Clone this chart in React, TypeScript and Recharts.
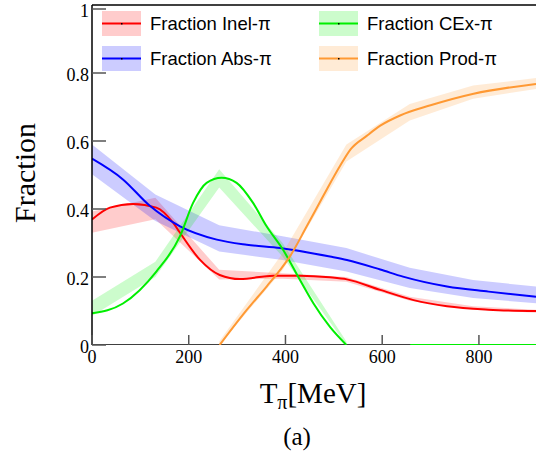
import React from 'react';
import { ComposedChart, Line, Area, XAxis, YAxis, ReferenceLine, Customized } from 'recharts';

// Band nodes (MeV)
const BAND_X = [0, 131, 263, 394, 526, 657, 788, 918];
const RED_LO = [0.33, 0.37, 0.193, 0.195, 0.186, 0.13, 0.104, 0.095];
const RED_HI = [0.393, 0.433, 0.221, 0.211, 0.2, 0.142, 0.114, 0.104];
const BLUE_LO = [0.502, 0.365, 0.275, 0.25, 0.216, 0.168, 0.138, 0.123];
const BLUE_HI = [0.59, 0.443, 0.352, 0.32, 0.285, 0.227, 0.191, 0.172];
const GREEN_BAND_X = [0, 131, 263, 394, 526];
const GREEN_LO = [0.085, 0.2, 0.463, 0.26, 0];
const GREEN_HI = [0.13, 0.245, 0.517, 0.3, 0.01];
const ORANGE_BAND_X = [263, 394, 526, 657, 788, 918];
const ORANGE_LO = [0, 0.22, 0.54, 0.66, 0.724, 0.753];
const ORANGE_HI = [0.01, 0.27, 0.59, 0.709, 0.763, 0.785];

// Central curves
const RED_X = [0, 37, 85, 133, 168, 182, 223, 264, 306, 375, 430, 492, 527, 596, 665, 734, 820, 918];
const RED_Y = [0.369, 0.404, 0.415, 0.404, 0.359, 0.33, 0.251, 0.206, 0.194, 0.204, 0.204, 0.199, 0.193, 0.162, 0.132, 0.114, 0.104, 0.1];
const BLUE_X = [0, 64, 119, 182, 258, 320, 389, 492, 527, 596, 643, 734, 820, 918];
const BLUE_Y = [0.548, 0.487, 0.41, 0.349, 0.31, 0.295, 0.285, 0.26, 0.25, 0.222, 0.201, 0.172, 0.157, 0.142];
const GREEN_X = [0, 64, 133, 182, 209, 237, 268, 299, 333, 361, 395, 430, 458, 492, 526, 590, 658, 918];
const GREEN_Y: (number | null)[] = [0.093, 0.122, 0.216, 0.32, 0.418, 0.477, 0.492, 0.477, 0.418, 0.349, 0.28, 0.191, 0.122, 0.053, 0, null, 0, 0];
const ORANGE_X = [264, 320, 361, 389, 409, 444, 478, 513, 535, 568, 596, 637, 700, 789, 918];
const ORANGE_Y = [0, 0.103, 0.172, 0.221, 0.26, 0.349, 0.438, 0.527, 0.576, 0.615, 0.645, 0.675, 0.705, 0.739, 0.768];

const X_DOMAIN = [0, 918];
const X_TICKS = [0, 200, 400, 600, 800];
const Y_TICKS = [0, 0.2, 0.4, 0.6, 0.8, 1];

const SERIES = [
  { name: 'Fraction Inel-π', color: '#ff0000' },
  { name: 'Fraction Abs-π', color: '#0000ff' },
  { name: 'Fraction CEx-π', color: '#00ee00' },
  { name: 'Fraction Prod-π', color: '#ff9933' },
];

const band = (xs: number[], lo: number[], hi: number[]) => xs.map((x, i) => ({ x, band: [lo[i], hi[i]] }));
const line = (xs: number[], ys: (number | null)[]) => xs.map((x, i) => ({ x, y: ys[i] }));

const redBand = band(BAND_X, RED_LO, RED_HI);
const blueBand = band(BAND_X, BLUE_LO, BLUE_HI);
const greenBand = band(GREEN_BAND_X, GREEN_LO, GREEN_HI);
const orangeBand = band(ORANGE_BAND_X, ORANGE_LO, ORANGE_HI);
const redLine = line(RED_X, RED_Y);
const blueLine = line(BLUE_X, BLUE_Y);
const greenLine = line(GREEN_X, GREEN_Y);
const orangeLine = line(ORANGE_X, ORANGE_Y);
// bottom frame line at y = 0 (drawn as a series so the curves can sit above it)
const baseLine = X_DOMAIN.map((x) => ({ x, y: 0 }));

const SERIF = '"Liberation Serif", "Times New Roman", serif';
const SANS = '"Liberation Sans", Arial, sans-serif';

const YTick = (props: any) => {
  const { x, y, payload } = props;
  return (
    <g>
      <line x1={x} y1={y} x2={x + 14} y2={y} stroke="#555" strokeWidth={1.5} />
      <text x={x - 3} y={y + 8} textAnchor="end" fontFamily={SERIF} fontSize={18} fill="#000">
        {String(payload.value)}
      </text>
    </g>
  );
};

const XTick = (props: any) => {
  const { x, y, payload } = props;
  return (
    <g>
      <line x1={x} y1={y} x2={x} y2={y - 10} stroke="#555" strokeWidth={1.5} />
      <text x={x} y={y + 18} textAnchor="middle" fontFamily={SERIF} fontSize={18} fill="#000">
        {String(payload.value)}
      </text>
    </g>
  );
};

const LEGEND_POS = [
  { bx: 102, by: 11 },
  { bx: 102, by: 46 },
  { bx: 319, by: 11 },
  { bx: 319, by: 46 },
];

const Decorations = () => (
  <g>
    {SERIES.map((s, i) => {
      const p = LEGEND_POS[i];
      return (
        <g key={s.name}>
          <rect x={p.bx} y={p.by} width={39} height={25} fill={s.color} fillOpacity={0.2} />
          <line x1={p.bx} y1={p.by + 12.5} x2={p.bx + 39} y2={p.by + 12.5} stroke={s.color} strokeWidth={2} />
          <rect x={p.bx + 19} y={p.by + 12} width={1.5} height={1.5} fill="#000" />
          <text x={p.bx + 48} y={p.by + 19} fontFamily={SANS} fontSize={18.5} fill="#000">
            {s.name}
          </text>
        </g>
      );
    })}
    <text x={35} y={173} transform="rotate(-90 35 173)" textAnchor="middle" fontFamily={SERIF} fontSize={30} fill="#000">
      Fraction
    </text>
    <text x={313} y={403} textAnchor="middle" fontFamily={SERIF} fontSize={29} fill="#000">
      T
      <tspan fontSize={20} dy={6}>π</tspan>
      <tspan dy={-6}>[MeV]</tspan>
    </text>
    <text x={297} y={445} textAnchor="middle" fontFamily={SERIF} fontSize={25} fill="#000">
      (a)
    </text>
  </g>
);

export default function App() {
  return (
    <div style={{ position: 'absolute', left: 0, top: 0, width: 536, height: 456, background: '#fff' }}>
      <ComposedChart width={536} height={456} margin={{ top: 5, right: 0, bottom: 0, left: 0 }}>
        <XAxis
          dataKey="x"
          type="number"
          domain={X_DOMAIN}
          ticks={X_TICKS}
          allowDataOverflow
          height={111}
          tickSize={0}
          tickMargin={0}
          tickLine={false}
          axisLine={false}
          tick={<XTick />}
        />
        <YAxis
          type="number"
          domain={[0, 1]}
          ticks={Y_TICKS}
          allowDataOverflow
          width={92}
          tickSize={0}
          tickMargin={0}
          tickLine={false}
          axisLine={{ stroke: '#000', strokeWidth: 1.5 }}
          tick={<YTick />}
        />
        <ReferenceLine y={1} stroke="#000" strokeWidth={1.5} />
        <Area data={redBand} dataKey="band" type="linear" stroke="none" fill="#ff0000" fillOpacity={0.2} isAnimationActive={false} />
        <Area data={blueBand} dataKey="band" type="linear" stroke="none" fill="#0000ff" fillOpacity={0.2} isAnimationActive={false} />
        <Area data={greenBand} dataKey="band" type="linear" stroke="none" fill="#00ee00" fillOpacity={0.2} isAnimationActive={false} />
        <Area data={orangeBand} dataKey="band" type="linear" stroke="none" fill="#ff9933" fillOpacity={0.2} isAnimationActive={false} />
        <Line data={baseLine} dataKey="y" type="linear" stroke="#000" strokeWidth={1.5} dot={false} activeDot={false} isAnimationActive={false} />
        <Line data={redLine} dataKey="y" type="monotone" stroke="#ff0000" strokeWidth={2} dot={false} activeDot={false} isAnimationActive={false} />
        <Line data={blueLine} dataKey="y" type="monotone" stroke="#0000ff" strokeWidth={2} dot={false} activeDot={false} isAnimationActive={false} />
        <Line data={greenLine} dataKey="y" type="monotone" stroke="#00ee00" strokeWidth={2} dot={false} activeDot={false} connectNulls={false} isAnimationActive={false} />
        <Line data={orangeLine} dataKey="y" type="monotone" stroke="#ff9933" strokeWidth={2} dot={false} activeDot={false} isAnimationActive={false} />
        <Customized component={Decorations} />
      </ComposedChart>
    </div>
  );
}
